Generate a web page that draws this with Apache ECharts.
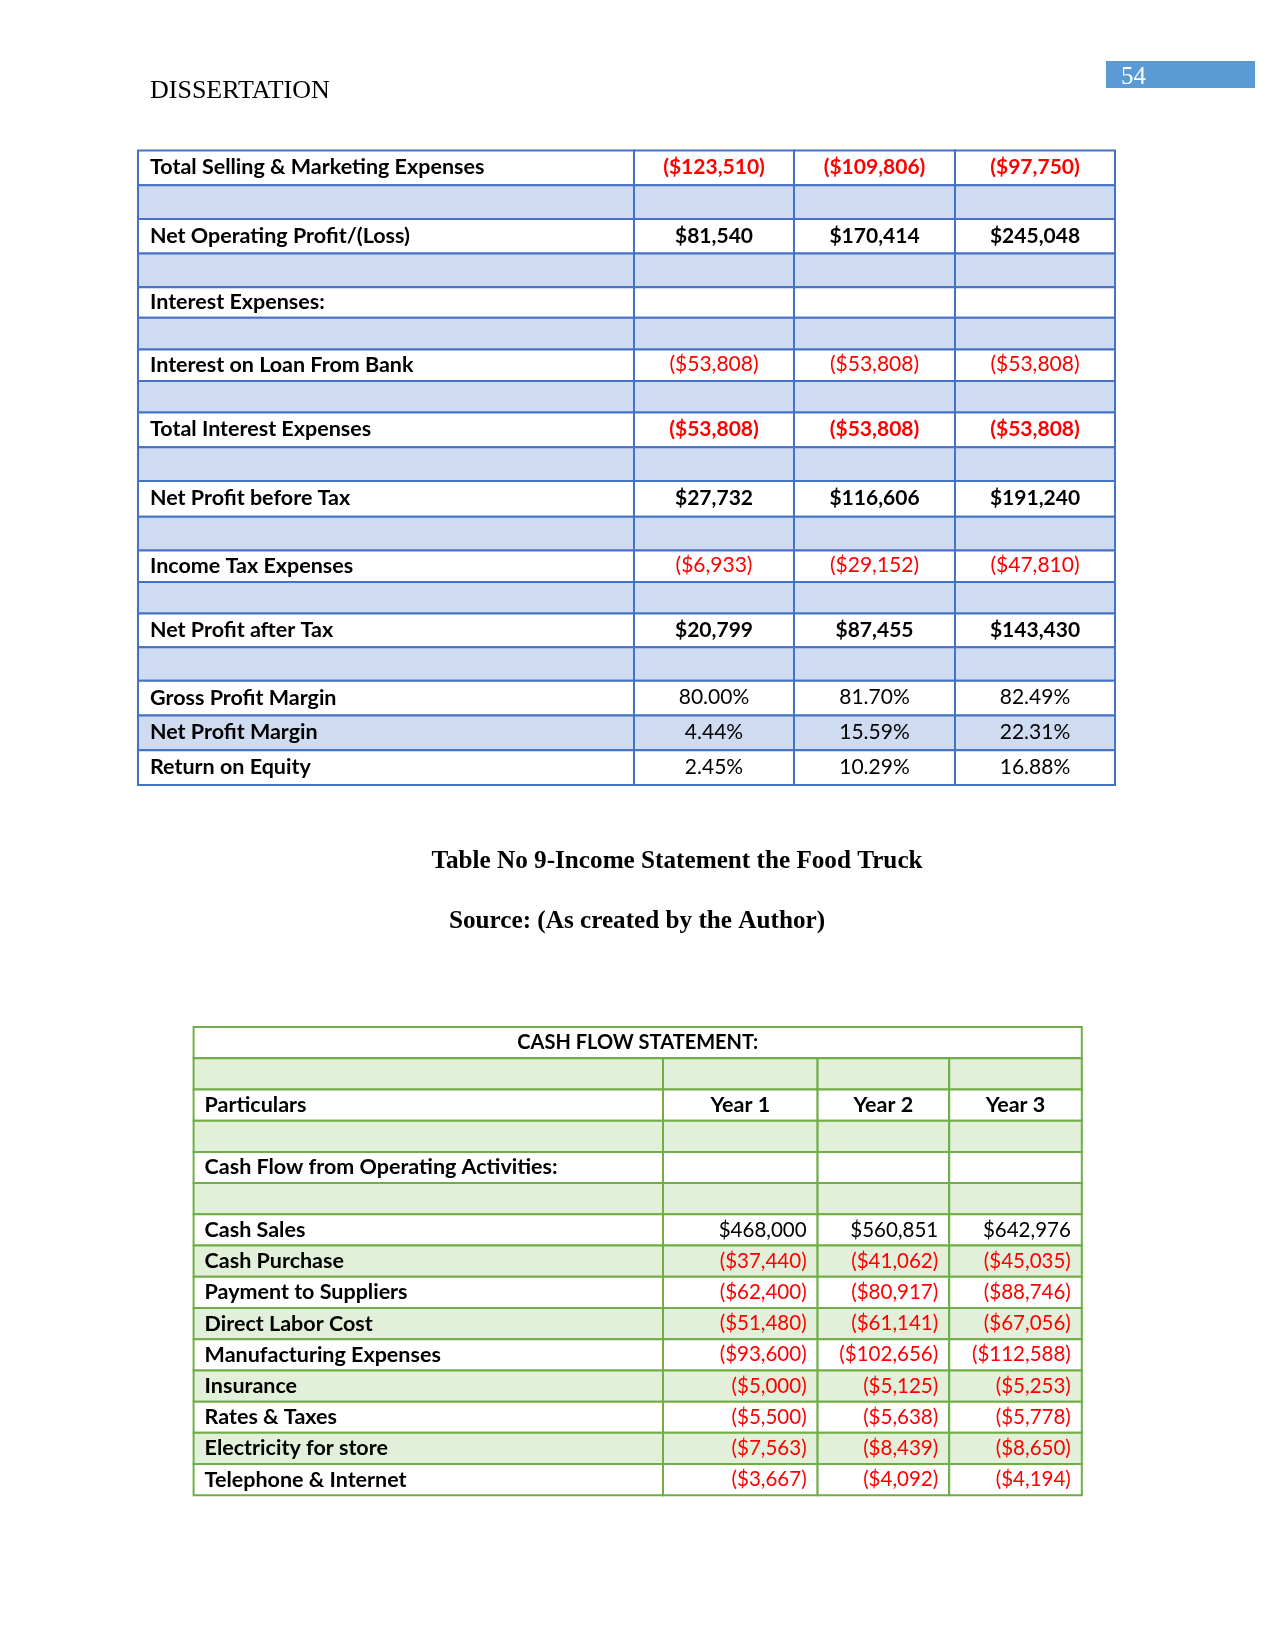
<!DOCTYPE html>
<html>
<head>
<meta charset="utf-8">
<script src="https://cdn.jsdelivr.net/npm/echarts@6/dist/echarts.min.js"></script>
<style>
html, body { margin: 0; padding: 0; background: #fff; }
#page { width: 1275px; height: 1650px; }
</style>
</head>
<body>
<div id="page"></div>
<script>
// income statement (continued) - years 1..3
var incomeItems = ['Total Selling & Marketing Expenses', '', 'Net Operating Profit/(Loss)', '', 'Interest Expenses:', '',
  'Interest on Loan From Bank', '', 'Total Interest Expenses', '', 'Net Profit before Tax', '',
  'Income Tax Expenses', '', 'Net Profit after Tax', '', 'Gross Profit Margin', 'Net Profit Margin', 'Return on Equity'];
var incomeYear1 = [-123510, null, 81540, null, null, null, -53808, null, -53808, null, 27732, null, -6933, null, 20799, null, 80.00, 4.44, 2.45];
var incomeYear2 = [-109806, null, 170414, null, null, null, -53808, null, -53808, null, 116606, null, -29152, null, 87455, null, 81.70, 15.59, 10.29];
var incomeYear3 = [-97750, null, 245048, null, null, null, -53808, null, -53808, null, 191240, null, -47810, null, 143430, null, 82.49, 22.31, 16.88];
var ratioItems = ['Gross Profit Margin', 'Net Profit Margin', 'Return on Equity'];
var totalItems = ['Total Selling & Marketing Expenses', 'Net Operating Profit/(Loss)', 'Total Interest Expenses', 'Net Profit before Tax', 'Net Profit after Tax'];

// cash flow statement
var cashTitle = 'CASH FLOW STATEMENT:';
var yearLabels = ['Year 1', 'Year 2', 'Year 3'];
var cashSection = 'Cash Flow from Operating Activities:';
var cashItems = ['Cash Sales', 'Cash Purchase', 'Payment to Suppliers', 'Direct Labor Cost', 'Manufacturing Expenses',
  'Insurance', 'Rates & Taxes', 'Electricity for store', 'Telephone & Internet'];
var cashYear1 = [468000, -37440, -62400, -51480, -93600, -5000, -5500, -7563, -3667];
var cashYear2 = [560851, -41062, -80917, -61141, -102656, -5125, -5638, -8439, -4092];
var cashYear3 = [642976, -45035, -88746, -67056, -112588, -5253, -5778, -8650, -4194];

// layout / style
var BLUE_LINE = '#4472C4', BLUE_FILL = '#CFDBF0';
var GREEN_LINE = '#70AD47', GREEN_FILL = '#E2EFD9';
var RED = '#FF0000';
var FONT = 'Lato';
var SERIF = '"Liberation Serif"';
var incomeColEdges = [0, 496, 656, 817, 977];
var incomeRowH = [34.7, 33.7, 34.7, 33.7, 30.5, 31.6, 31.5, 31.6, 34.7, 33.7, 35.8, 33.7, 31.5, 31.6, 33.7, 33.6, 34.8, 34.7, 34.7];
var incomeShade = [0, 1, 0, 1, 0, 1, 0, 1, 0, 1, 0, 1, 0, 1, 0, 1, 0, 1, 0];
var cashColEdges = [0, 469.4, 624, 755.6, 888.2];
var cashRowH = 31.22;

var incomeRowEdges = [0];
incomeRowH.forEach(function (h, i) { incomeRowEdges.push(incomeRowEdges[i] + h); });
var incomeHeight = incomeRowEdges[incomeRowEdges.length - 1];

function money(v) {
  var s = '$' + Math.abs(v).toLocaleString('en-US');
  return v < 0 ? '(' + s + ')' : s;
}

function textEl(str, x, y, align, bold, color, size) {
  return {
    type: 'text',
    style: {
      text: str, x: x, y: y,
      align: align, textAlign: align,
      verticalAlign: 'middle', textVerticalAlign: 'middle',
      fill: color, font: (bold ? 'bold ' : '') + size + 'px ' + FONT
    }
  };
}

// income cells
var incomeData = [];
incomeItems.forEach(function (name, r) {
  for (var c = 0; c < 4; c++) incomeData.push([r, c]);
});

function incomeCell(params, api) {
  var r = api.value(0), c = api.value(1);
  var p0 = api.coord([incomeColEdges[c], incomeRowEdges[r]]);
  var p1 = api.coord([incomeColEdges[c + 1], incomeRowEdges[r + 1]]);
  var kids = [{
    type: 'rect',
    shape: { x: p0[0], y: p0[1], width: p1[0] - p0[0], height: p1[1] - p0[1] },
    style: { fill: incomeShade[r] ? BLUE_FILL : '#fff', stroke: BLUE_LINE, lineWidth: 2 }
  }];
  var cy = (p0[1] + p1[1]) / 2 - 0.5;
  var name = incomeItems[r];
  if (c === 0) {
    if (name) kids.push(textEl(name, p0[0] + 12, cy, 'left', true, '#000', 21.5));
  } else {
    var v = [incomeYear1, incomeYear2, incomeYear3][c - 1][r];
    if (v !== null) {
      var isRatio = ratioItems.indexOf(name) >= 0;
      var str = isRatio ? v.toFixed(2) + '%' : money(v);
      var color = (!isRatio && v < 0) ? RED : '#000';
      kids.push(textEl(str, (p0[0] + p1[0]) / 2, cy, 'center', totalItems.indexOf(name) >= 0, color, 21));
    }
  }
  return { type: 'group', children: kids };
}

// cash flow rows: header, blank, particulars, blank, section, blank, items
var cashRows = [{ kind: 'title' }, { kind: 'blank' }, { kind: 'head' }, { kind: 'blank' }, { kind: 'section' }, { kind: 'blank' }];
cashItems.forEach(function (n, i) { cashRows.push({ kind: 'item', idx: i }); });
var cashData = [[0, 0]];
for (var r = 1; r < cashRows.length; r++) for (var c = 0; c < 4; c++) cashData.push([r, c]);
var cashHeight = cashRows.length * cashRowH;

function cashCell(params, api) {
  var r = api.value(0), c = api.value(1);
  var row = cashRows[r];
  var x1 = row.kind === 'title' ? cashColEdges[4] : cashColEdges[c + 1];
  var p0 = api.coord([cashColEdges[c], r * cashRowH]);
  var p1 = api.coord([x1, (r + 1) * cashRowH]);
  var kids = [{
    type: 'rect',
    shape: { x: p0[0], y: p0[1], width: p1[0] - p0[0], height: p1[1] - p0[1] },
    style: { fill: r % 2 === 1 ? GREEN_FILL : '#fff', stroke: GREEN_LINE, lineWidth: 2 }
  }];
  var cy = (p0[1] + p1[1]) / 2;
  if (row.kind === 'title') {
    kids.push({ type: 'line', shape: { x1: p0[0], y1: p1[1] + 1, x2: p1[0], y2: p1[1] + 1 }, style: { stroke: GREEN_LINE, lineWidth: 4 } });
    kids.push(textEl(cashTitle, (p0[0] + p1[0]) / 2, cy, 'center', true, '#000', 20));
  } else if (row.kind === 'head') {
    if (c === 0) kids.push(textEl('Particulars', p0[0] + 11, cy, 'left', true, '#000', 21.5));
    else kids.push(textEl(yearLabels[c - 1], (p0[0] + p1[0]) / 2, cy, 'center', true, '#000', 21.5));
  } else if (row.kind === 'section') {
    if (c === 0) kids.push(textEl(cashSection, p0[0] + 11, cy, 'left', true, '#000', 21.5));
  } else if (row.kind === 'item') {
    if (c === 0) kids.push(textEl(cashItems[row.idx], p0[0] + 11, cy, 'left', true, '#000', 21.5));
    else {
      var v = [cashYear1, cashYear2, cashYear3][c - 1][row.idx];
      kids.push(textEl(money(v), p1[0] - 11, cy, 'right', false, v < 0 ? RED : '#000', 20.5));
    }
  }
  return { type: 'group', children: kids };
}

function pageText(str, x, y, font, color, align) {
  return {
    type: 'text', x: x, y: y,
    style: { text: str, fill: color, font: font, align: align, textAlign: align, verticalAlign: 'middle', textVerticalAlign: 'middle' }
  };
}

var chart = echarts.init(document.getElementById('page'));
chart.setOption({
  animation: false,
  grid: [
    { left: 138, top: 150.5, width: 977, height: incomeHeight },
    { left: 193.6, top: 1027, width: 888.2, height: cashHeight }
  ],
  xAxis: [
    { type: 'value', gridIndex: 0, min: 0, max: 977, show: false },
    { type: 'value', gridIndex: 1, min: 0, max: 888.2, show: false }
  ],
  yAxis: [
    { type: 'value', gridIndex: 0, min: 0, max: incomeHeight, inverse: true, show: false },
    { type: 'value', gridIndex: 1, min: 0, max: cashHeight, inverse: true, show: false }
  ],
  graphic: [
    { type: 'rect', left: 1106, top: 61, shape: { width: 149, height: 27 }, style: { fill: '#5B9BD5' } },
    pageText('54', 1121, 77, '25px ' + SERIF, '#FFFFFF', 'left'),
    pageText('DISSERTATION', 150, 91, '26px ' + SERIF, '#000', 'left'),
    pageText('Table No 9-Income Statement the Food Truck', 677, 861, 'bold 25.2px ' + SERIF, '#000', 'center'),
    pageText('Source: (As created by the Author)', 637, 921, 'bold 25.2px ' + SERIF, '#000', 'center')
  ],
  series: [
    { type: 'custom', xAxisIndex: 0, yAxisIndex: 0, clip: false, renderItem: incomeCell, data: incomeData },
    { type: 'custom', xAxisIndex: 1, yAxisIndex: 1, clip: false, renderItem: cashCell, data: cashData }
  ]
});
</script>
</body>
</html>
